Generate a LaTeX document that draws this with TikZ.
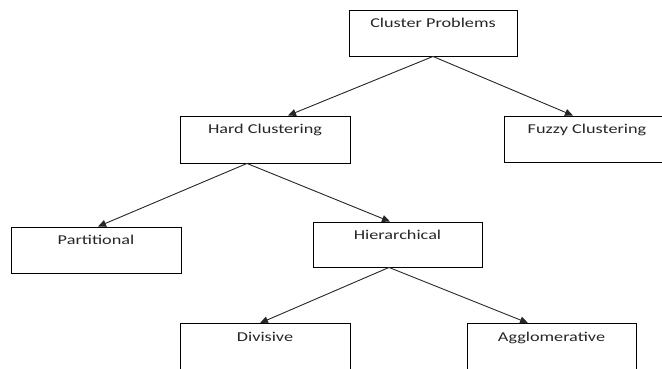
\documentclass[tikz,border=0pt]{standalone}
\usepackage{fontspec}
\newfontfamily\boxfont[FakeStretch=1.35]{Carlito}
\usetikzlibrary{arrows.meta}
\begin{document}
\begin{tikzpicture}[x=1pt,y=-1pt,
  box/.style={draw=black, line width=0.9pt, rectangle, inner sep=0pt, minimum width=#1, minimum height=46pt},
  box/.default=168pt,
  lbl/.style={font=\boxfont\fontsize{13.5pt}{16pt}\selectfont, text=black!85, anchor=base, inner sep=0pt},
  conn/.style={draw=black!85, line width=0.9pt, -{Triangle[length=8pt,width=7pt]}}
]
\useasboundingbox[fill=white] (0,0) rectangle (662,368);
\node[box] (cp) at (433,33) {};
\node[box=170pt, minimum height=47pt] (hard) at (265,139.5) {};
\node[box] (fuzzy) at (588,139) {};
\node[box=170pt] (part) at (96,250) {};
\node[box=169pt, minimum height=45pt] (hier) at (397.5,244.5) {};
\node[box=170pt] (div) at (265,346.5) {};
\node[box=169pt] (agg) at (551.5,346.5) {};
\node[lbl] (tcp) at ([yshift=-18pt]cp.north) {Cluster Problems};
\node[lbl] (thard) at ([yshift=-18pt]hard.north) {Hard Clustering};
\node[lbl] (tfuzzy) at ([xshift=-1pt,yshift=-18pt]fuzzy.north) {Fuzzy Clustering};
\node[lbl] (tpart) at ([yshift=-18pt]part.north) {Partitional};
\node[lbl] (thier) at ([yshift=-18pt]hier.north) {Hierarchical};
\node[lbl] (tdiv) at ([yshift=-18pt]div.north) {Divisive};
\node[lbl] (tagg) at ([yshift=-18pt]agg.north) {Agglomerative};
\draw[conn] (cp.south) -- ([xshift=23pt]hard.north);
\draw[conn] (cp.south) -- ([xshift=-15pt]fuzzy.north);
\draw[conn] ([xshift=-18pt]hard.south) -- ([xshift=2pt]part.north);
\draw[conn] ([xshift=-18pt]hard.south) -- ([xshift=-7.5pt]hier.north);
\draw[conn] ([xshift=-8.5pt]hier.south) -- ([xshift=-5pt]div.north);
\draw[conn] ([xshift=-8.5pt]hier.south) -- ([xshift=-23.5pt]agg.north);
\end{tikzpicture}
\end{document}
